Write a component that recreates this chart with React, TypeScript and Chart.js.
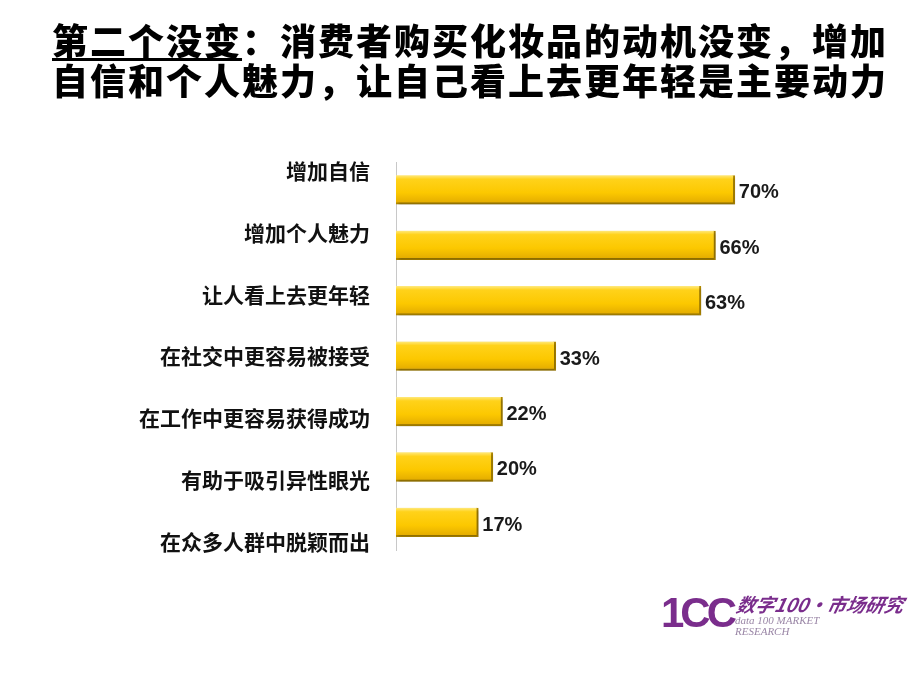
import React, { useEffect, useRef } from "react";
import { Chart, registerables } from "chart.js";

Chart.register(...registerables);

const categories = [
  "增加自信",
  "增加个人魅力",
  "让人看上去更年轻",
  "在社交中更容易被接受",
  "在工作中更容易获得成功",
  "有助于吸引异性眼光",
  "在众多人群中脱颖而出",
];
const values = [70, 66, 63, 33, 22, 20, 17];
const labelPositions = [0, 1, 2, 3, 4, 5, 6];

const valueLabels = {
  id: "valueLabels",
  afterDatasetsDraw(chart: any) {
    const ctx = chart.ctx;
    const meta = chart.getDatasetMeta(0);
    ctx.save();
    ctx.font = "bold 20px 'Liberation Sans', Arial, sans-serif";
    ctx.fillStyle = "#1a1a1a";
    ctx.textAlign = "left";
    ctx.textBaseline = "middle";
    meta.data.forEach((el: any, i: number) => {
      ctx.fillText(values[i] + "%", el.x + 4, el.y + 3);
    });
    ctx.restore();
  },
};

const barShadow = {
  id: "barShadow",
  beforeDatasetDraw(chart: any) {
    const ctx = chart.ctx;
    ctx.save();
    ctx.shadowColor = "rgba(0,0,0,0.28)";
    ctx.shadowBlur = 3;
    ctx.shadowOffsetX = 2;
    ctx.shadowOffsetY = 2;
  },
  afterDatasetDraw(chart: any) {
    chart.ctx.restore();
  },
};

export default function App() {
  const ref = useRef<HTMLCanvasElement | null>(null);

  useEffect(() => {
    document.body.style.margin = "0";
    const canvas = ref.current;
    if (!canvas) return;
    const chart = new Chart(canvas, {
      type: "bar",
      data: {
        labels: categories,
        datasets: [
          {
            data: values,
            yAxisID: "y",
            backgroundColor: (c: any) => {
              const ch = c.chart;
              if (!ch.chartArea || !ch.scales.y) return "#f8c600";
              const y = ch.scales.y.getPixelForValue(c.dataIndex);
              const g = ch.ctx.createLinearGradient(0, y - 15, 0, y + 15);
              g.addColorStop(0, "#ffec8a");
              g.addColorStop(0.15, "#ffd21a");
              g.addColorStop(0.6, "#fcc800");
              g.addColorStop(1, "#e0a800");
              return g;
            },
            borderColor: "#b58c00",
            borderWidth: { top: 0, right: 2, bottom: 2, left: 0 },
            borderSkipped: false,
            barThickness: 29,
          },
        ],
      },
      options: {
        indexAxis: "y",
        animation: false,
        responsive: false,
        maintainAspectRatio: false,
        layout: { padding: { top: 162, bottom: 140, left: 0, right: 40 } },
        plugins: {
          legend: { display: false },
          tooltip: { enabled: false },
          title: { display: false },
        },
        scales: {
          x: { display: false, min: 0, max: 100 },
          y: { type: "category", display: false, offset: true },
          y2: {
            type: "linear",
            position: "left",
            reverse: true,
            offset: false,
            bounds: "data",
            min: -0.146,
            max: 6.132,
            grid: { display: false, drawTicks: false, offset: false },
            border: { display: true, color: "#c8c8c8", width: 1 },
            afterBuildTicks: (scale: any) => {
              scale.ticks = labelPositions.map((v) => ({ value: v }));
            },
            afterFit: (scale: any) => {
              scale.width = 396;
            },
            ticks: {
              autoSkip: false,
              padding: 26,
              color: "#111111",
              font: { family: "'Noto Sans CJK SC', sans-serif", size: 21, weight: "bold" },
              callback: (v: any) => categories[Math.round(Number(v))] ?? "",
            },
          },
        },
      },
      plugins: [barShadow, valueLabels],
    } as any);
    return () => chart.destroy();
  }, []);

  const purple = "#7a2d8c";

  return (
    <div style={{ position: "relative", width: 920, height: 690, background: "#ffffff", overflow: "hidden" }}>
      <canvas ref={ref} width={920} height={690} style={{ position: "absolute", left: 0, top: 0 }} />
      <div
        style={{
          position: "absolute",
          left: 52,
          top: 19,
          fontFamily: "'Noto Sans CJK SC', sans-serif",
          fontWeight: 900,
          fontSize: 36,
          letterSpacing: 2,
          lineHeight: "40px",
          color: "#000000",
          whiteSpace: "nowrap",
        }}
      >
        <div>
          <span style={{ textDecoration: "underline", textDecorationThickness: 3, textUnderlineOffset: 3 }}>第二个没变</span>
          ：消费者购买化妆品的动机没变，增加
        </div>
        <div>自信和个人魅力，让自己看上去更年轻是主要动力</div>
      </div>
      <div style={{ position: "absolute", left: 661, top: 590, color: purple, whiteSpace: "nowrap" }}>
        <span
          style={{
            position: "absolute",
            left: 0,
            top: 0,
            fontFamily: "'Liberation Sans', Arial, sans-serif",
            fontWeight: 700,
            fontSize: 42,
            lineHeight: "46px",
            letterSpacing: -4,
          }}
        >
          1CC
        </span>
        <span
          style={{
            position: "absolute",
            left: 76,
            top: 3,
            fontFamily: "'Noto Sans CJK SC', sans-serif",
            fontWeight: 700,
            fontStyle: "italic",
            fontSize: 19,
            lineHeight: "22px",
            transform: "skewX(-12deg)",
          }}
        >
          数字100·市场研究
        </span>
        <span
          style={{
            position: "absolute",
            left: 74,
            top: 25,
            fontFamily: "'Liberation Serif', serif",
            fontStyle: "italic",
            fontSize: 11,
            lineHeight: "11px",
            color: "#9a86a6",
          }}
        >
          data 100 MARKET
          <br />
          RESEARCH
        </span>
      </div>
    </div>
  );
}
